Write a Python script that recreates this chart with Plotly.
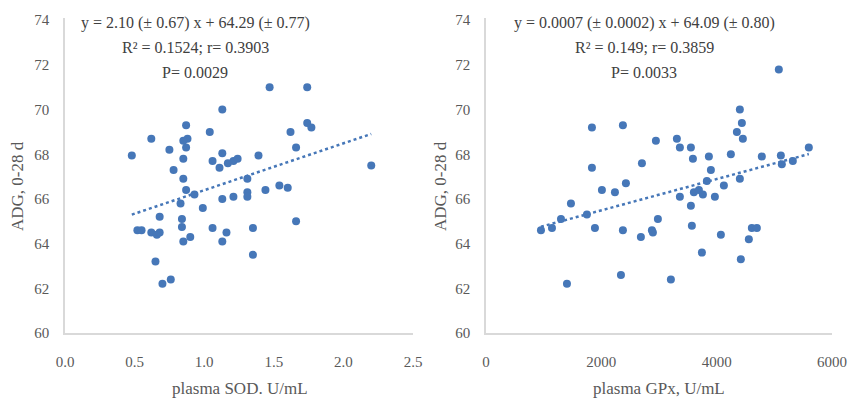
import plotly.graph_objects as go

# ---- data: left panel (plasma SOD) ----
sod_x = [0.48, 0.52, 0.55, 0.62, 0.66, 0.68, 0.68, 0.65, 0.70, 0.76,
         0.62, 0.75, 0.78, 0.85, 0.87, 0.93, 0.83, 0.84, 0.84, 0.85,
         0.90, 0.87, 0.88, 0.85, 0.87, 0.85, 0.99, 1.04, 1.13, 1.06,
         1.11, 1.13, 1.17, 1.21, 1.13, 1.21, 1.06, 1.16, 1.13, 1.24,
         1.31, 1.31, 1.31, 1.35, 1.35, 1.39, 1.44, 1.47, 1.54, 1.60,
         1.62, 1.66, 1.66, 1.74, 1.74, 1.77, 2.20]
sod_y = [67.95, 64.6, 64.6, 64.5, 64.4, 64.5, 65.2, 63.2, 62.2, 62.4,
         68.7, 68.2, 67.3, 66.9, 66.4, 66.2, 65.8, 65.1, 64.75, 64.1,
         64.3, 69.3, 68.7, 68.6, 68.3, 67.8, 65.6, 69.0, 70.0, 67.7,
         67.4, 68.05, 67.6, 67.7, 66.0, 66.1, 64.7, 64.5, 64.1, 67.8,
         66.9, 66.3, 66.1, 64.7, 63.5, 67.95, 66.4, 71.0, 66.6, 66.5,
         69.0, 68.3, 65.0, 71.0, 69.4, 69.2, 67.5]

# ---- data: right panel (plasma GPx) ----
gpx_x = [953, 1144, 1300, 1404, 1473, 1750, 1837, 1837, 1889, 2010,
         2236, 2340, 2374, 2374, 2426, 2686, 2704, 2877, 2894, 2946,
         2981, 3206, 3310, 3362, 3362, 3553, 3553, 3570, 3588, 3605,
         3692, 3744, 3761, 3830, 3865, 3900, 3969, 4073, 4125, 4246,
         4350, 4402, 4402, 4419, 4437, 4454, 4558, 4610, 4697, 4783,
         5078, 5113, 5130, 5321, 5598]
gpx_y = [64.6, 64.7, 65.1, 62.2, 65.8, 65.3, 69.2, 67.4, 64.7, 66.4,
         66.3, 62.6, 69.3, 64.6, 66.7, 64.3, 67.6, 64.6, 64.5, 68.6,
         65.1, 62.4, 68.7, 68.3, 66.1, 68.3, 65.7, 64.8, 67.8, 66.3,
         66.4, 63.6, 66.2, 66.8, 67.9, 67.3, 66.1, 64.4, 66.6, 68.0,
         69.0, 70.0, 66.9, 63.3, 69.4, 68.7, 64.2, 64.7, 64.7, 67.9,
         71.8, 67.95, 67.55, 67.7, 68.3]

# regression equations (as printed on chart)
sod_slope, sod_icpt = 2.10, 64.29
gpx_slope, gpx_icpt = 0.0007, 64.09

sod_eq = ["y = 2.10 (± 0.67) x + 64.29 (± 0.77)", "R² = 0.1524; r= 0.3903", "P= 0.0029"]
gpx_eq = ["y = 0.0007 (± 0.0002) x + 64.09 (± 0.80)", "R² = 0.149; r= 0.3859", "P= 0.0033"]

y_ticks = [60, 62, 64, 66, 68, 70, 72, 74]
sod_ticks = [0.0, 0.5, 1.0, 1.5, 2.0, 2.5]
gpx_ticks = [0, 2000, 4000, 6000]

W, H = 848, 400
MARK = "#4677B8"
FONT = "Liberation Serif"
TICKC = "#595959"


def px(xs):
    return xs / W


def py(ys):
    return (H - ys) / H


fig = go.Figure()

fig.add_trace(go.Scatter(x=sod_x, y=sod_y, mode="markers",
                         marker=dict(color=MARK, size=8), xaxis="x", yaxis="y"))
tx = [min(sod_x), max(sod_x)]
fig.add_trace(go.Scatter(x=tx, y=[sod_slope * v + sod_icpt for v in tx], mode="lines",
                         line=dict(color=MARK, width=2.5, dash="dot"), xaxis="x", yaxis="y"))

fig.add_trace(go.Scatter(x=gpx_x, y=gpx_y, mode="markers",
                         marker=dict(color=MARK, size=8), xaxis="x2", yaxis="y2"))
tx2 = [min(gpx_x), max(gpx_x)]
fig.add_trace(go.Scatter(x=tx2, y=[gpx_slope * v + gpx_icpt for v in tx2], mode="lines",
                         line=dict(color=MARK, width=2.5, dash="dot"), xaxis="x2", yaxis="y2"))

ydom = [py(333), py(18)]
common_y = dict(range=[60, 74.1], tickvals=y_ticks, showgrid=False, zeroline=False,
                showline=True, linecolor="#d9d9d9", linewidth=1.5, automargin=False,
                ticks="outside", ticklen=11, tickcolor="rgba(0,0,0,0)",
                tickfont=dict(family=FONT, size=15, color=TICKC), domain=ydom)
common_x = dict(showgrid=False, zeroline=False, showline=True, linecolor="#d9d9d9",
                linewidth=1.5, automargin=False, ticks="outside", ticklen=14,
                tickcolor="rgba(0,0,0,0)",
                tickfont=dict(family=FONT, size=15, color=TICKC))

fig.update_layout(
    template="none",
    width=W, height=H, margin=dict(l=0, r=0, t=0, b=0, autoexpand=False),
    paper_bgcolor="white", plot_bgcolor="white", showlegend=False,
    xaxis=dict(common_x, range=[0, 2.5], tickvals=sod_ticks, tickformat=".1f",
               domain=[px(65), px(413)], anchor="y"),
    yaxis=dict(common_y, anchor="x"),
    xaxis2=dict(common_x, range=[0, 6000], tickvals=gpx_ticks, tickformat="d",
                domain=[px(486), px(832)], anchor="y2"),
    yaxis2=dict(common_y, anchor="x2"),
)

ann = []
for xc, lines in [(195, sod_eq), (644, gpx_eq)]:
    for j, t in enumerate(lines):
        ann.append(dict(x=px(xc), y=py(23 + 24.5 * j), xref="paper", yref="paper",
                        text=t, showarrow=False, xanchor="center", yanchor="middle",
                        font=dict(family=FONT, size=16, color="#404040")))
# axis titles
for xc, t in [(240, "plasma SOD. U/mL"), (659, "plasma GPx, U/mL")]:
    ann.append(dict(x=px(xc), y=py(388), xref="paper", yref="paper", text=t,
                    xanchor="center", yanchor="middle",
                    showarrow=False, font=dict(family=FONT, size=17, color=TICKC)))
for xc in [17, 440]:
    ann.append(dict(x=px(xc), y=py(186), xref="paper", yref="paper", text="ADG, 0-28 d",
                    textangle=-90, xanchor="center", yanchor="middle",
                    showarrow=False, font=dict(family=FONT, size=17, color=TICKC)))
fig.update_layout(annotations=ann)

fig.write_html("out.html", config={"displayModeBar": False},
               post_script="document.body.style.margin='0';document.body.style.overflow='hidden';")
